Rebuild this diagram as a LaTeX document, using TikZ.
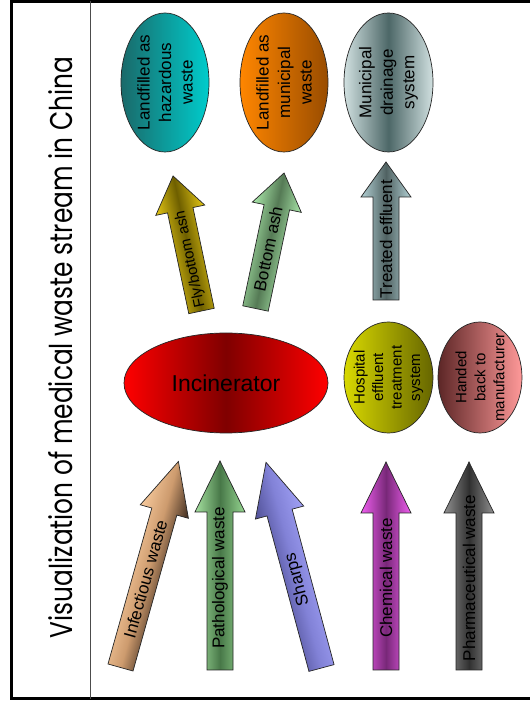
\documentclass[tikz,border=0pt]{standalone}
\usepackage{fontspec}
\usepackage{graphicx}
\setmainfont{Liberation Sans}
\newfontfamily\titlefont{Poppins}
\usetikzlibrary{shapes.geometric}
\begin{document}
\begin{tikzpicture}[x=1pt,y=1pt,
  ell/.style={ellipse, draw=black!85, line width=0.7pt, inner sep=0pt},
  etext/.style={rotate=90, align=center, font=\fontsize{17}{21.5}\selectfont, inner sep=0pt},
  arr/.style={draw=black!85, line width=0.7pt},
  atext/.style={font=\fontsize{17}{20}\selectfont, inner sep=0pt}]
\useasboundingbox (0,0) rectangle (530,705);
\fill[white] (0,0) rectangle (530,705);
% frame
\draw[line width=3pt] (532,703.5) -- (11.5,703.5) -- (11.5,6) -- (532,6);
\draw[black!70, line width=0.9pt] (90.7,703.5) -- (90.7,6);
% title
\node[rotate=90, anchor=base, inner sep=0pt] (title) at (72,357.5)
  {\resizebox{581pt}{24pt}{\titlefont Visualization of medical waste stream in China}};

% top ellipses
\node[ell, minimum width=88, minimum height=139, left color=teal!70!black!90, right color=cyan!60!teal] (haz) at (165,622.5) {};
\node[etext] (hazt) at (haz.center) {Landfilled as\\hazardous\\waste};
\node[ell, minimum width=88, minimum height=139, left color=orange!95!yellow, right color=orange!60!black] (mun) at (284,622.5) {};
\node[etext] (munt) at (mun.center) {Landfilled as\\municipal\\waste};
\node[ell, minimum width=89, minimum height=139, left color=cyan!20!gray!30, right color=cyan!20!gray!30, middle color=teal!30!black!70] (drain) at (388.5,622.5) {};
\node[etext] (draint) at (drain.center) {Municipal\\drainage\\system};

% middle ellipses
\node[ell, minimum width=204, minimum height=100, left color=red, right color=red, middle color=red!50!black] (inc) at (226,322) {};
\node[font=\fontsize{23}{26}\selectfont, inner sep=0pt] (inct) at (inc.center) {Incinerator};
\node[ell, minimum width=89, minimum height=111, left color=yellow!85!black, right color=yellow!40!black] (hosp) at (388.5,327.5) {};
\node[etext, font=\fontsize{15}{18.5}\selectfont] (hospt) at (hosp.center) {Hospital\\effluent\\treatment\\system};
\node[ell, minimum width=84, minimum height=111, left color=red!25!black!85, right color=red!40!white] (hand) at (480,327.5) {};
\node[etext, font=\fontsize{15}{19}\selectfont] (handt) at (hand.center) {Handed\\back to\\manufacturer};

% bottom arrows
\begin{scope}[transform canvas={shift={(120.5,37.5)}, rotate=74.3}]
  \path[arr, top color={rgb,255:red,246;green,201;blue,156}, bottom color={rgb,255:red,60;green,42;blue,30}, middle color={rgb,255:red,205;green,155;blue,110}]
    (0,-13) -- (162,-13) -- (162,-25) -- (214,0) -- (162,25) -- (162,13) -- (0,13) -- cycle;
  \node[atext] (inf) at (92,0) {Infectious waste};
\end{scope}
\begin{scope}[transform canvas={shift={(220,35)}, rotate=90}]
  \path[arr, top color={rgb,255:red,165;green,225;blue,160}, bottom color={rgb,255:red,150;green,215;blue,145}, middle color={rgb,255:red,72;green,120;blue,72}]
    (0,-13) -- (158,-13) -- (158,-25) -- (209,0) -- (158,25) -- (158,13) -- (0,13) -- cycle;
  \node[atext] (path) at (92,0) {Pathological waste};
\end{scope}
\begin{scope}[transform canvas={shift={(321.5,37)}, rotate=105.1}]
  \path[arr, top color={rgb,255:red,80;green,80;blue,150}, bottom color={rgb,255:red,160;green,160;blue,245}, middle color={rgb,255:red,130;green,130;blue,215}]
    (0,-13) -- (161,-13) -- (161,-25) -- (213,0) -- (161,25) -- (161,13) -- (0,13) -- cycle;
  \node[atext] (sharp) at (92,0) {Sharps};
\end{scope}
\begin{scope}[transform canvas={shift={(386,35)}, rotate=90}]
  \path[arr, top color={rgb,255:red,240;green,95;blue,240}, bottom color={rgb,255:red,240;green,95;blue,240}, middle color={rgb,255:red,120;green,40;blue,120}]
    (0,-13) -- (157,-13) -- (157,-25) -- (208,0) -- (157,25) -- (157,13) -- (0,13) -- cycle;
  \node[atext] (chem) at (92,0) {Chemical waste};
\end{scope}
\begin{scope}[transform canvas={shift={(469,35)}, rotate=90}]
  \path[arr, top color={rgb,255:red,145;green,145;blue,145}, bottom color={rgb,255:red,145;green,145;blue,145}, middle color={rgb,255:red,48;green,48;blue,48}]
    (0,-13) -- (157,-13) -- (157,-25) -- (208,0) -- (157,25) -- (157,13) -- (0,13) -- cycle;
  \node[atext] (pharm) at (92,0) {Pharmaceutical waste};
\end{scope}

% top arrows
\begin{scope}[transform canvas={shift={(201.5,394)}, rotate=101.9}]
  \path[arr, top color={rgb,255:red,230;green,200;blue,20}, bottom color={rgb,255:red,230;green,200;blue,20}, middle color={rgb,255:red,110;green,95;blue,0}]
    (0,-13) -- (103,-13) -- (103,-25) -- (138,0) -- (103,25) -- (103,13) -- (0,13) -- cycle;
  \node[atext, font=\fontsize{15}{18}\selectfont] (fly) at (53,0) {Fly/bottom ash};
\end{scope}
\begin{scope}[transform canvas={shift={(255.5,396.5)}, rotate=78.1}]
  \path[arr, top color={rgb,255:red,170;green,232;blue,170}, bottom color={rgb,255:red,170;green,232;blue,170}, middle color={rgb,255:red,85;green,122;blue,85}]
    (0,-13) -- (103.5,-13) -- (103.5,-25) -- (138.5,0) -- (103.5,25) -- (103.5,13) -- (0,13) -- cycle;
  \node[atext] (bash) at (61,0) {Bottom ash};
\end{scope}
\begin{scope}[transform canvas={shift={(386,405)}, rotate=90}]
  \path[arr, top color={rgb,255:red,178;green,208;blue,212}, bottom color={rgb,255:red,178;green,208;blue,212}, middle color={rgb,255:red,80;green,98;blue,98}]
    (0,-13) -- (103,-13) -- (103,-25) -- (138,0) -- (103,25) -- (103,13) -- (0,13) -- cycle;
  \node[atext] (treat) at (61,0) {Treated effluent};
\end{scope}
\end{tikzpicture}
\end{document}
